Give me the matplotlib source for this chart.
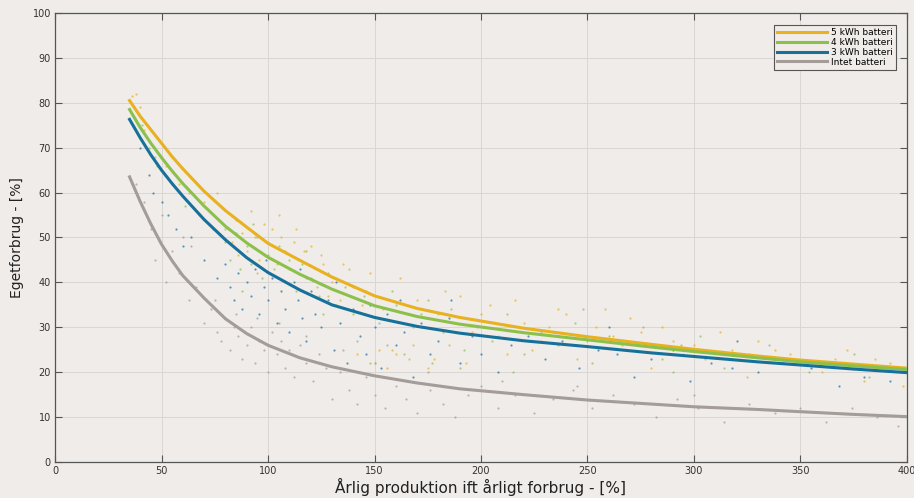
import matplotlib
matplotlib.use('Agg')
import matplotlib.pyplot as plt
from matplotlib.lines import Line2D

# curve values (fitted lines)
curve_x = [35, 40, 45, 50, 55, 60, 70, 80, 90, 100, 115, 130, 150, 170, 190, 220, 250, 280, 300, 330, 350, 375, 400]
kwh5 = [80.5, 77, 74, 71, 68, 65.3, 60.3, 56, 52.3, 48.7, 44.9, 41.2, 37, 34.2, 32.2, 29.8, 27.9, 26.2, 25.1, 23.6, 22.7, 21.8, 20.9]
kwh4 = [78.5, 74.5, 71, 67.8, 64.8, 62, 57, 52.5, 48.8, 45.6, 41.8, 38.5, 34.8, 32.4, 30.7, 28.8, 27.2, 25.6, 24.6, 23.2, 22.3, 21.4, 20.6]
kwh3 = [76.3, 72.2, 68.4, 65, 62, 59.2, 54, 49.5, 45.5, 42.2, 38.3, 35, 32.2, 30.2, 28.7, 27, 25.7, 24.3, 23.5, 22.3, 21.6, 20.7, 19.9]
none = [63.5, 58, 53, 48.5, 44.8, 41.5, 36.5, 31.9, 28.6, 26, 23.2, 21.2, 19.2, 17.6, 16.3, 15, 13.8, 12.9, 12.3, 11.7, 11.2, 10.6, 10.1]

# scattered simulation results (rough reading of the point clouds)
pts5 = [(36, 81.5), (38, 82), (40, 79), (42, 74), (47, 68), (52, 66), (58, 62), (63, 60), (70, 58), (76, 60),
        (80, 52), (83, 49), (85, 54), (88, 51), (90, 47), (92, 56), (94, 50), (96, 45), (98, 53), (100, 49),
        (102, 52), (104, 44), (106, 50), (108, 47), (110, 43), (112, 49), (115, 45), (118, 41), (120, 48), (123, 39),
        (126, 44), (130, 40), (134, 36), (138, 43), (142, 24), (146, 38), (150, 22), (154, 34), (158, 25), (162, 41),
        (166, 23), (170, 36), (175, 21), (180, 33), (185, 26), (190, 37), (196, 29), (204, 35), (212, 24), (220, 31),
        (228, 27), (236, 34), (245, 23), (254, 30), (262, 28), (270, 32), (280, 21), (290, 27), (300, 26), (312, 29),
        (325, 19), (338, 25), (352, 22), (366, 23), (380, 18), (392, 22), (86, 46), (95, 42), (105, 55), (113, 52),
        (117, 47), (125, 46), (128, 37), (135, 44), (140, 39), (144, 35), (148, 42), (152, 25), (156, 21), (160, 24),
        (168, 26), (172, 30), (178, 23), (183, 38), (188, 31), (193, 22), (200, 33), (208, 28), (216, 36), (224, 25),
        (232, 30), (240, 33), (250, 27), (258, 34), (266, 26), (275, 29), (285, 30), (295, 24), (305, 23), (318, 25),
        (330, 27), (345, 24), (360, 20), (372, 25), (385, 23), (398, 17)]
pts4 = [(37, 79), (41, 75), (44, 70), (48, 66), (55, 62), (61, 57), (68, 55), (74, 52), (80, 49), (82, 45),
        (85, 51), (87, 43), (90, 48), (92, 44), (95, 50), (97, 41), (100, 46), (103, 43), (105, 48), (108, 40),
        (110, 45), (113, 38), (116, 44), (120, 41), (124, 37), (128, 42), (132, 35), (136, 39), (140, 33), (145, 37),
        (148, 22), (152, 31), (156, 26), (160, 35), (164, 24), (168, 30), (172, 33), (177, 22), (182, 29), (186, 34),
        (192, 25), (198, 30), (205, 27), (212, 33), (220, 24), (228, 29), (236, 26), (244, 31), (252, 22), (260, 28),
        (268, 25), (276, 30), (285, 23), (294, 26), (303, 28), (314, 21), (326, 24), (340, 23), (354, 20), (368, 22),
        (382, 19), (395, 21), (88, 38), (93, 53), (118, 47), (126, 33), (142, 27), (158, 38), (175, 36), (190, 21),
        (215, 20), (248, 34), (290, 20), (335, 26), (375, 24)]
pts3 = [(40, 70), (44, 64), (46, 60), (50, 58), (53, 55), (57, 52), (60, 48), (64, 50), (70, 45), (76, 41),
        (80, 44), (82, 39), (84, 36), (86, 42), (88, 34), (90, 40), (92, 37), (94, 43), (96, 33), (98, 39),
        (100, 36), (102, 41), (104, 31), (106, 38), (108, 34), (110, 29), (112, 40), (114, 36), (116, 32), (118, 27),
        (120, 38), (122, 33), (125, 30), (128, 36), (131, 25), (134, 31), (137, 22), (140, 34), (143, 28), (146, 24),
        (150, 30), (153, 21), (156, 33), (160, 26), (164, 29), (168, 19), (172, 31), (176, 24), (180, 27), (185, 32),
        (190, 22), (196, 28), (202, 30), (208, 20), (214, 26), (222, 28), (230, 23), (238, 27), (246, 21), (255, 25),
        (264, 24), (272, 19), (280, 23), (290, 25), (298, 18), (308, 22), (318, 21), (330, 20), (342, 22), (355, 21),
        (368, 17), (380, 19), (392, 18), (398, 20), (99, 45), (115, 43), (132, 40), (148, 35), (162, 36), (186, 36),
        (200, 24), (260, 30), (320, 27)]
pts0 = [(38, 62), (42, 58), (45, 52), (47, 45), (50, 55), (52, 40), (55, 47), (58, 42), (60, 50), (63, 36),
        (66, 39), (70, 31), (73, 34), (76, 29), (78, 27), (80, 32), (82, 25), (84, 30), (86, 28), (88, 23),
        (90, 26), (92, 30), (94, 22), (96, 27), (98, 25), (100, 20), (102, 29), (104, 24), (106, 27), (108, 21),
        (110, 25), (112, 19), (115, 26), (118, 22), (121, 18), (124, 24), (127, 21), (130, 14), (134, 20), (138, 16),
        (142, 13), (146, 19), (150, 15), (155, 12), (160, 17), (165, 14), (170, 11), (176, 16), (182, 13), (188, 10),
        (194, 15), (200, 17), (208, 12), (216, 15), (225, 11), (234, 14), (243, 16), (252, 12), (262, 15), (272, 13),
        (282, 10), (292, 14), (302, 12), (314, 9), (326, 13), (338, 11), (350, 12), (362, 9), (374, 12), (386, 10),
        (396, 8), (64, 48), (75, 36), (85, 33), (95, 32), (105, 31), (118, 28), (135, 25), (150, 22), (175, 20),
        (210, 18), (245, 17), (300, 15)]

labels = ['5 kWh batteri', '4 kWh batteri', '3 kWh batteri', 'Intet batteri']
colors = ['#e9b11f', '#8cc04b', '#16709a', '#a39c98']
xticks = [0, 50, 100, 150, 200, 250, 300, 350, 400]
yticks = [0, 10, 20, 30, 40, 50, 60, 70, 80, 90, 100]

bg = '#efece9'
narrow = ['Liberation Sans Narrow', 'DejaVu Sans']

fig = plt.figure(figsize=(9.14, 4.98), dpi=100, facecolor=bg)
ax = fig.add_axes([0.0602, 0.0723, 0.9321, 0.9016], facecolor=bg)

# scatter clouds
for pts, c in zip([pts0, pts5, pts4, pts3], [colors[3], colors[0], colors[1], colors[2]]):
  ax.scatter([p[0] for p in pts], [p[1] for p in pts], s=2.5, color=c, alpha=0.7, linewidths=0, zorder=2)

# fitted curves
ax.plot(curve_x, none, color=colors[3], lw=2.2, zorder=3)
ax.plot(curve_x, kwh5, color=colors[0], lw=2.2, zorder=3)
ax.plot(curve_x, kwh4, color=colors[1], lw=2.2, zorder=3)
ax.plot(curve_x, kwh3, color=colors[2], lw=2.2, zorder=3)

ax.set_xlim(0, 400)
ax.set_ylim(0, 100)
ax.set_xticks(xticks)
ax.set_yticks(yticks)
ax.grid(True, color='#d9d6d3', lw=0.7)
ax.set_axisbelow(True)
ax.tick_params(direction='in', length=5, width=0.8, color='#555555', top=True, right=True,
               labelsize=7, labelcolor='#333333', pad=3)
for lab in ax.get_xticklabels() + ax.get_yticklabels():
  lab.set_family(narrow)
for sp in ax.spines.values():
  sp.set_color('#555555')
  sp.set_linewidth(0.9)

ax.set_xlabel('Årlig produktion ift årligt forbrug - [%]', family=narrow, fontsize=11, color='#222222', labelpad=1)
ax.set_ylabel('Egetforbrug - [%]', fontsize=10, color='#222222', labelpad=6)

handles = [Line2D([0], [0], color=c, lw=2.2) for c in colors]
leg = ax.legend(handles, labels, loc='upper right', fontsize=6.5, handlelength=5.5, handletextpad=0.4,
                labelspacing=0.1, borderpad=0.35, fancybox=False, framealpha=1,
                facecolor=bg, edgecolor='#555555', bbox_to_anchor=(0.992, 0.984))
leg.get_frame().set_linewidth(0.8)

fig.savefig('out.png', dpi=100, facecolor=bg)
